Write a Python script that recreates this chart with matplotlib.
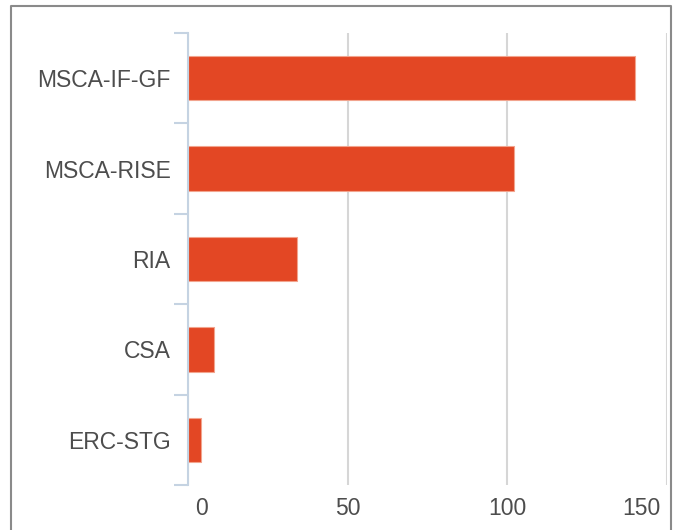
import matplotlib
matplotlib.use("Agg")
import matplotlib.pyplot as plt
from matplotlib.lines import Line2D
from matplotlib.transforms import blended_transform_factory, offset_copy

# data
categories = ["MSCA-IF-GF", "MSCA-RISE", "RIA", "CSA", "ERC-STG"]
values = [140, 102, 34, 8, 4]
x_ticks = [0, 50, 100, 150]
x_tick_labels = ["0", "50", "100", "150"]

bar_color = "#E34724"
axis_color = "#C5D3E2"
grid_color = "#D6D6D6"
text_color = "#4D4D4D"

plt.rcParams["font.family"] = ["Liberation Sans", "DejaVu Sans"]

W, H = 675, 530
fig = plt.figure(figsize=(W / 100, H / 100), dpi=100)
ax = fig.add_axes([188 / W, 1 - 485 / H, (667 - 188) / W, (485 - 33) / H])

n = len(categories)
ax.barh(range(n), values, height=0.49, color=bar_color,
        edgecolor="#F2A48E", linewidth=0.8, zorder=3)

ax.set_xlim(0, 150)
ax.set_ylim(n - 0.5, -0.5)

# vertical grid lines
ax.set_xticks(x_ticks)
ax.grid(axis="x", color=grid_color, linewidth=1.5, zorder=0)
ax.tick_params(axis="x", length=0, labelbottom=False)

for side in ["top", "right", "bottom"]:
    ax.spines[side].set_visible(False)
ax.spines["left"].set_color(axis_color)
ax.spines["left"].set_linewidth(1.5)
ax.spines["left"].set_zorder(4)

# category labels, tick marks between categories
ax.set_yticks(range(n))
ax.set_yticklabels(categories, fontsize=16.5, color=text_color)
ax.tick_params(axis="y", which="major", length=0, pad=12.5)
ax.set_yticks([i - 0.5 for i in range(n + 1)], minor=True)
ax.tick_params(axis="y", which="minor", length=10, width=1.5, color=axis_color)

# x labels, first and last pulled inside the plot
trans = blended_transform_factory(ax.transData, ax.transAxes)
for i, (xv, lab) in enumerate(zip(x_ticks, x_tick_labels)):
    if i == 0:
        ha, dx = "left", 7
    elif i == len(x_ticks) - 1:
        ha, dx = "right", -7
    else:
        ha, dx = "center", 0
    t = offset_copy(trans, fig=fig, x=dx, y=0, units="dots")
    ax.text(xv, -0.0509, lab, transform=t, ha=ha, va="center",
            fontsize=16.5, color=text_color)

# outer frame (cut off at the bottom)
top = 1 - 5.5 / H
fig.add_artist(Line2D([11 / W, 11 / W, 671 / W, 671 / W], [0, top, top, 0],
                      transform=fig.transFigure, color="#8A8A8A", linewidth=1.5))

fig.savefig("out.png", dpi=100)
